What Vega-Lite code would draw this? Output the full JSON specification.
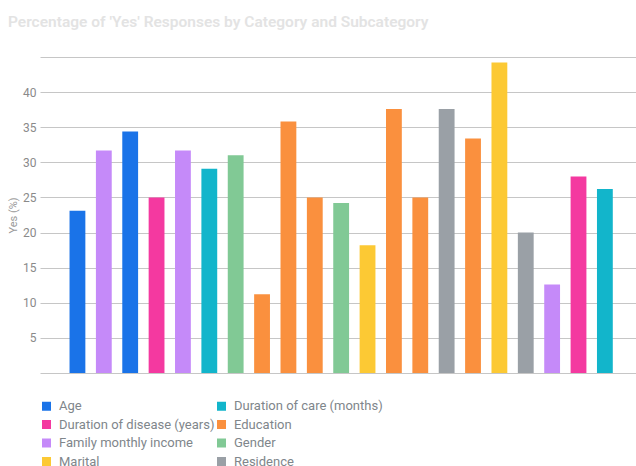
{
  "$schema": "https://vega.github.io/schema/vega-lite/v6.json",
  "width": 596,
  "height": 316,
  "autosize": "none",
  "padding": {"left": 40, "top": 57, "right": 0, "bottom": 93},
  "background": "white",
  "title": {
    "text": "Percentage of 'Yes' Responses by Category and Subcategory",
    "anchor": "start",
    "frame": "group",
    "dx": -32,
    "offset": 31,
    "dy": 16,
    "baseline": "alphabetic",
    "font": "Roboto",
    "fontSize": 15.5,
    "fontWeight": 600,
    "color": "#e3e3e3"
  },
  "data": {
    "values": [
      {"item": 1, "category": "Age", "yes": 23.1},
      {"item": 2, "category": "Family monthly income", "yes": 31.7},
      {"item": 3, "category": "Age", "yes": 34.4},
      {"item": 4, "category": "Duration of disease (years)", "yes": 25.0},
      {"item": 5, "category": "Family monthly income", "yes": 31.7},
      {"item": 6, "category": "Duration of care (months)", "yes": 29.1},
      {"item": 7, "category": "Gender", "yes": 31.0},
      {"item": 8, "category": "Education", "yes": 11.2},
      {"item": 9, "category": "Education", "yes": 35.8},
      {"item": 10, "category": "Education", "yes": 25.0},
      {"item": 11, "category": "Gender", "yes": 24.2},
      {"item": 12, "category": "Marital", "yes": 18.2},
      {"item": 13, "category": "Education", "yes": 37.6},
      {"item": 14, "category": "Education", "yes": 25.0},
      {"item": 15, "category": "Residence", "yes": 37.6},
      {"item": 16, "category": "Education", "yes": 33.4},
      {"item": 17, "category": "Marital", "yes": 44.2},
      {"item": 18, "category": "Residence", "yes": 20.0},
      {"item": 19, "category": "Family monthly income", "yes": 12.6},
      {"item": 20, "category": "Duration of disease (years)", "yes": 28.0},
      {"item": 21, "category": "Duration of care (months)", "yes": 26.2}
    ]
  },
  "mark": {"type": "bar"},
  "encoding": {
    "x": {
      "field": "item",
      "type": "ordinal",
      "scale": {"paddingInner": 0.4, "paddingOuter": 1.01, "align": 0.56},
      "axis": null
    },
    "y": {
      "field": "yes",
      "type": "quantitative",
      "title": "Yes (%)",
      "scale": {"domain": [0, 45], "nice": false},
      "axis": {
        "values": [0, 5, 10, 15, 20, 25, 30, 35, 40, 45],
        "labelExpr": "datum.value == 0 || datum.value == 45 ? '' : datum.label",
        "ticks": false,
        "domain": false,
        "grid": true,
        "gridColor": "#c6c6c6",
        "gridWidth": 1,
        "labelFont": "Roboto",
        "labelFontSize": 12,
        "labelColor": "#8a8a8a",
        "labelPadding": 4,
        "titleFont": "Roboto",
        "titleFontSize": 11,
        "titleFontWeight": "normal",
        "titleColor": "#9a9a9a",
        "titlePadding": 4
      }
    },
    "color": {
      "field": "category",
      "type": "nominal",
      "title": null,
      "scale": {
        "domain": ["Age", "Duration of disease (years)", "Family monthly income", "Marital", "Duration of care (months)", "Education", "Gender", "Residence"],
        "range": ["#1a73e8", "#f439a0", "#c58af9", "#fcc934", "#12b5cb", "#fa903e", "#81c995", "#9aa0a6"]
      },
      "legend": {
        "orient": "none",
        "legendX": 0,
        "legendY": 342.5,
        "columns": 2,
        "symbolType": "square",
        "symbolSize": 81,
        "symbolStrokeWidth": 0,
        "labelFont": "Roboto",
        "labelFontSize": 13,
        "labelColor": "#80868b",
        "labelLimit": 156,
        "labelOffset": 6,
        "columnPadding": -5,
        "rowPadding": 4.5
      }
    }
  },
  "config": {
    "view": {"stroke": null}
  }
}
